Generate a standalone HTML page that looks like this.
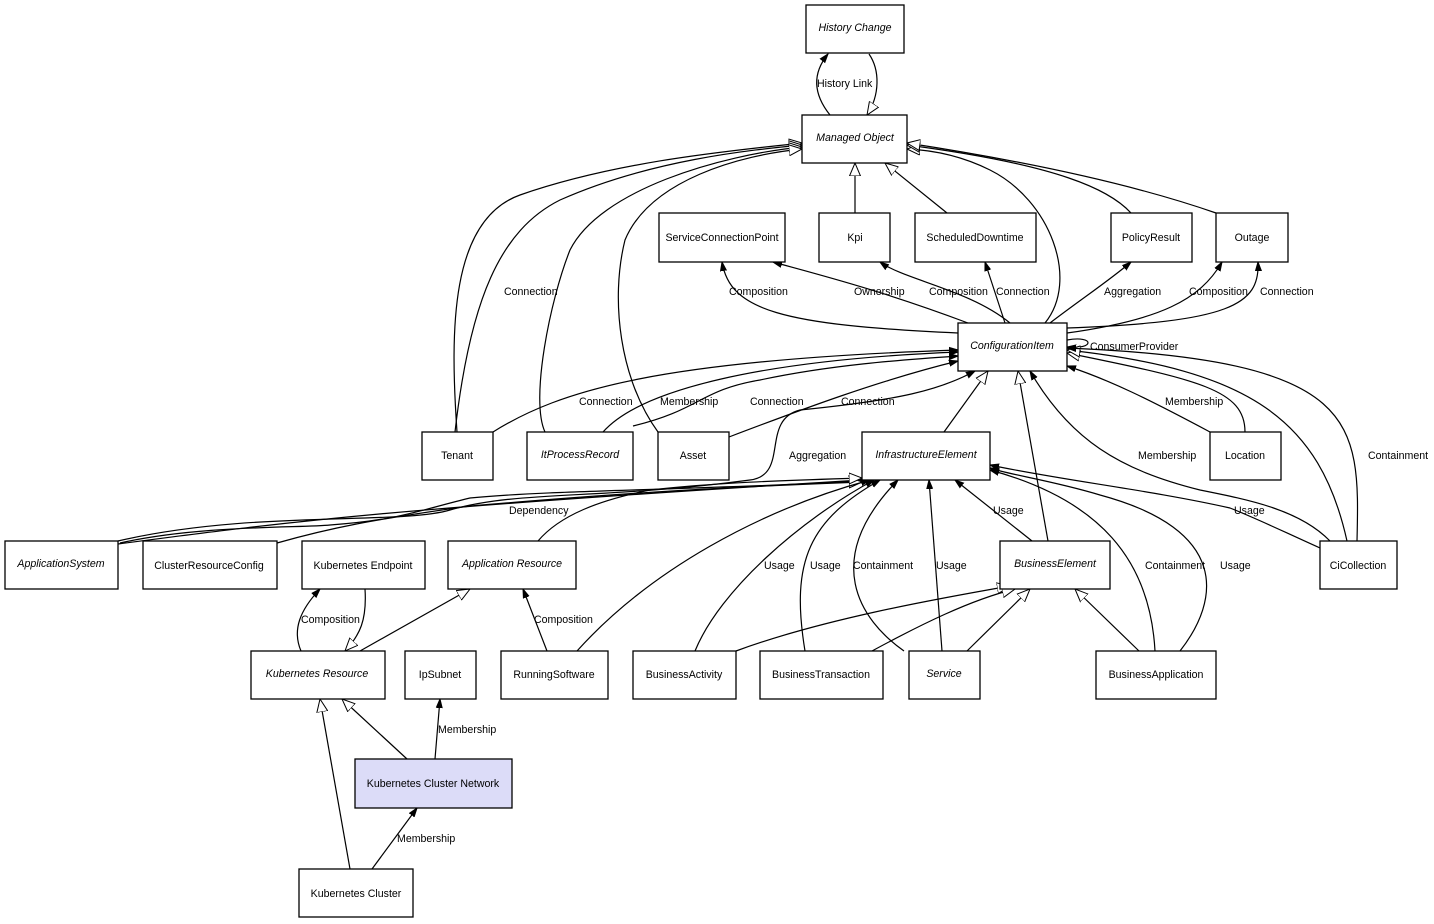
<!DOCTYPE html>
<html><head><meta charset="utf-8"><style>
body{margin:0;background:#fff;width:1434px;height:924px;overflow:hidden}
svg{display:block}
text{font-family:"Liberation Sans",sans-serif;font-size:10.6px;fill:#000}
.i{font-style:italic}
rect{fill:#fff;stroke:#000;stroke-width:1.3}
path{fill:none;stroke:#000;stroke-width:1.2}
</style></head><body>
<svg width="1434" height="924" viewBox="0 0 1434 924">
<defs>
<marker id="a" markerWidth="10" markerHeight="8" refX="9" refY="4" orient="auto" markerUnits="userSpaceOnUse"><path d="M0,1 L9,4 L0,7 Z" style="fill:#000;stroke:#000;stroke-width:1"/></marker>
<marker id="t" markerWidth="14" markerHeight="12" refX="13" refY="6" orient="auto" markerUnits="userSpaceOnUse"><path d="M0,0.5 L13,6 L0,11.5 Z" style="fill:#fff;stroke:#000;stroke-width:1"/></marker>
</defs>
<g>
<path d="M830,115 C810,90 815,70 828,54" marker-end="url(#a)"/>
<path d="M869,54 C880,70 880,95 867,115" marker-end="url(#t)"/>
<path d="M855,213 L855,163" marker-end="url(#t)"/>
<path d="M947,213 L885,163" marker-end="url(#t)"/>
<path d="M457,432 C450,330 450,220 520,195 C620,160 740,150 802,143" marker-end="url(#t)"/>
<path d="M455,432 C470,300 500,230 560,200 C650,160 750,150 802,145" marker-end="url(#t)"/>
<path d="M545,432 C530,400 550,300 570,250 C600,190 720,155 802,147" marker-end="url(#t)"/>
<path d="M658,432 C620,380 610,300 625,240 C650,180 740,155 802,149" marker-end="url(#t)"/>
<path d="M1045,323 C1080,280 1050,200 990,170 C960,155 930,150 907,149" marker-end="url(#t)"/>
<path d="M1131,213 C1110,190 1060,165 907,145" marker-end="url(#t)"/>
<path d="M1216,213 C1150,190 1050,165 907,143" marker-end="url(#t)"/>
<path d="M958,333 C780,325 730,310 722,262" marker-end="url(#a)"/>
<path d="M968,323 C880,290 820,275 773,262" marker-end="url(#a)"/>
<path d="M1010,323 C970,290 905,280 880,262" marker-end="url(#a)"/>
<path d="M1005,323 L985,262" marker-end="url(#a)"/>
<path d="M1050,323 C1080,300 1110,280 1131,262" marker-end="url(#a)"/>
<path d="M1067,333 C1160,320 1200,300 1222,262" marker-end="url(#a)"/>
<path d="M1067,328 C1230,322 1260,305 1258,262" marker-end="url(#a)"/>
<path d="M1067,340 C1095,335 1095,350 1067,347" marker-end="url(#a)"/>
<path d="M493,432 C560,390 660,360 958,350" marker-end="url(#a)"/>
<path d="M603,432 C640,390 760,360 958,352" marker-end="url(#a)"/>
<path d="M633,426 C700,410 700,390 760,380 C830,365 900,360 958,356" marker-end="url(#a)"/>
<path d="M729,437 C800,410 880,380 958,361" marker-end="url(#a)"/>
<path d="M118,541 C250,510 400,525 450,510 C520,490 600,500 750,480 C790,475 760,420 800,410 C900,400 940,390 975,371" marker-end="url(#a)"/>
<path d="M944,432 L988,371" marker-end="url(#t)"/>
<path d="M1048,541 L1018,371" marker-end="url(#t)"/>
<path d="M1330,541 C1300,510 1250,500 1200,490 C1120,470 1070,440 1030,371" marker-end="url(#a)"/>
<path d="M1210,432 C1150,400 1110,380 1067,366" marker-end="url(#a)"/>
<path d="M1245,432 C1245,390 1200,380 1067,353" marker-end="url(#t)"/>
<path d="M1347,541 C1320,420 1250,370 1067,350" marker-end="url(#t)"/>
<path d="M1357,541 C1360,420 1360,360 1067,348" marker-end="url(#a)"/>
<path d="M118,544 C300,520 400,508 862,480" marker-end="url(#t)"/>
<path d="M120,543 C200,525 300,528 330,525 C400,520 420,510 470,498 C550,490 700,490 862,481" marker-end="url(#t)"/>
<path d="M277,543 C330,528 370,520 470,506 C600,495 700,488 862,482" marker-end="url(#t)"/>
<path d="M538,541 C560,515 600,500 650,490 C720,482 800,480 862,478" marker-end="url(#t)"/>
<path d="M577,651 C650,570 760,510 870,480" marker-end="url(#a)"/>
<path d="M695,651 C720,590 800,520 874,480" marker-end="url(#a)"/>
<path d="M805,651 C790,560 810,520 880,480" marker-end="url(#a)"/>
<path d="M904,651 C860,620 820,560 898,480" marker-end="url(#a)"/>
<path d="M942,651 L929,480" marker-end="url(#a)"/>
<path d="M1032,541 L955,480" marker-end="url(#a)"/>
<path d="M1155,651 C1150,560 1100,500 990,470" marker-end="url(#a)"/>
<path d="M1180,651 C1220,600 1230,530 1100,495 C1050,480 1010,475 990,468" marker-end="url(#a)"/>
<path d="M1320,548 C1280,530 1260,520 1230,508 C1150,490 1060,480 990,465" marker-end="url(#a)"/>
<path d="M736,651 C820,620 930,600 1010,586" marker-end="url(#t)"/>
<path d="M872,651 C920,625 970,600 1015,589" marker-end="url(#t)"/>
<path d="M967,651 L1030,589" marker-end="url(#t)"/>
<path d="M1139,651 L1075,589" marker-end="url(#t)"/>
<path d="M301,651 C292,630 300,610 320,589" marker-end="url(#a)"/>
<path d="M365,589 C367,620 360,635 345,651" marker-end="url(#t)"/>
<path d="M360,651 L470,589" marker-end="url(#t)"/>
<path d="M547,651 L523,589" marker-end="url(#a)"/>
<path d="M407,759 L342,699" marker-end="url(#t)"/>
<path d="M435,759 L440,699" marker-end="url(#a)"/>
<path d="M350,869 L320,699" marker-end="url(#t)"/>
<path d="M372,869 L417,808" marker-end="url(#a)"/>
</g>
<g>
<rect x="806" y="5" width="98" height="48"/><text class="i" x="855" y="31" text-anchor="middle">History Change</text>
<rect x="802" y="115" width="105" height="48"/><text class="i" x="855" y="141" text-anchor="middle">Managed Object</text>
<rect x="659" y="213" width="126" height="49"/><text x="722" y="241" text-anchor="middle">ServiceConnectionPoint</text>
<rect x="819" y="213" width="71" height="49"/><text x="855" y="241" text-anchor="middle">Kpi</text>
<rect x="915" y="213" width="121" height="49"/><text x="975" y="241" text-anchor="middle">ScheduledDowntime</text>
<rect x="1111" y="213" width="81" height="49"/><text x="1151" y="241" text-anchor="middle">PolicyResult</text>
<rect x="1216" y="213" width="72" height="49"/><text x="1252" y="241" text-anchor="middle">Outage</text>
<rect x="958" y="323" width="109" height="48"/><text class="i" x="1012" y="349" text-anchor="middle">ConfigurationItem</text>
<rect x="422" y="432" width="71" height="48"/><text x="457" y="459" text-anchor="middle">Tenant</text>
<rect x="527" y="432" width="106" height="48"/><text class="i" x="580" y="458" text-anchor="middle">ItProcessRecord</text>
<rect x="658" y="432" width="71" height="48"/><text x="693" y="459" text-anchor="middle">Asset</text>
<rect x="862" y="432" width="128" height="48"/><text class="i" x="926" y="458" text-anchor="middle">InfrastructureElement</text>
<rect x="1210" y="432" width="71" height="48"/><text x="1245" y="459" text-anchor="middle">Location</text>
<rect x="5" y="541" width="113" height="48"/><text class="i" x="61" y="567" text-anchor="middle">ApplicationSystem</text>
<rect x="143" y="541" width="134" height="48"/><text x="209" y="569" text-anchor="middle">ClusterResourceConfig</text>
<rect x="302" y="541" width="123" height="48"/><text x="363" y="569" text-anchor="middle">Kubernetes Endpoint</text>
<rect x="448" y="541" width="128" height="48"/><text class="i" x="512" y="567" text-anchor="middle">Application Resource</text>
<rect x="1000" y="541" width="110" height="48"/><text class="i" x="1055" y="567" text-anchor="middle">BusinessElement</text>
<rect x="1320" y="541" width="77" height="48"/><text x="1358" y="569" text-anchor="middle">CiCollection</text>
<rect x="251" y="651" width="134" height="48"/><text class="i" x="317" y="677" text-anchor="middle">Kubernetes Resource</text>
<rect x="405" y="651" width="71" height="48"/><text x="440" y="678" text-anchor="middle">IpSubnet</text>
<rect x="501" y="651" width="107" height="48"/><text x="554" y="678" text-anchor="middle">RunningSoftware</text>
<rect x="633" y="651" width="103" height="48"/><text x="684" y="678" text-anchor="middle">BusinessActivity</text>
<rect x="760" y="651" width="123" height="48"/><text x="821" y="678" text-anchor="middle">BusinessTransaction</text>
<rect x="909" y="651" width="71" height="48"/><text class="i" x="944" y="677" text-anchor="middle">Service</text>
<rect x="1096" y="651" width="120" height="48"/><text x="1156" y="678" text-anchor="middle">BusinessApplication</text>
<rect x="355" y="759" width="157" height="49" style="fill:#dcdcf8"/><text x="433" y="787" text-anchor="middle">Kubernetes Cluster Network</text>
<rect x="299" y="869" width="114" height="48"/><text x="356" y="897" text-anchor="middle">Kubernetes Cluster</text>
</g>
<g>
<text x="817" y="87">History Link</text>
<text x="504" y="295">Connection</text>
<text x="729" y="295">Composition</text>
<text x="854" y="295">Ownership</text>
<text x="929" y="295">Composition</text>
<text x="996" y="295">Connection</text>
<text x="1104" y="295">Aggregation</text>
<text x="1189" y="295">Composition</text>
<text x="1260" y="295">Connection</text>
<text x="1090" y="350">ConsumerProvider</text>
<text x="579" y="405">Connection</text>
<text x="660" y="405">Membership</text>
<text x="750" y="405">Connection</text>
<text x="841" y="405">Connection</text>
<text x="1165" y="405">Membership</text>
<text x="789" y="459">Aggregation</text>
<text x="1138" y="459">Membership</text>
<text x="1368" y="459">Containment</text>
<text x="509" y="514">Dependency</text>
<text x="993" y="514">Usage</text>
<text x="1234" y="514">Usage</text>
<text x="764" y="569">Usage</text>
<text x="810" y="569">Usage</text>
<text x="853" y="569">Containment</text>
<text x="936" y="569">Usage</text>
<text x="1145" y="569">Containment</text>
<text x="1220" y="569">Usage</text>
<text x="301" y="623">Composition</text>
<text x="534" y="623">Composition</text>
<text x="438" y="733">Membership</text>
<text x="397" y="842">Membership</text>
</g>
</svg>
</body></html>
